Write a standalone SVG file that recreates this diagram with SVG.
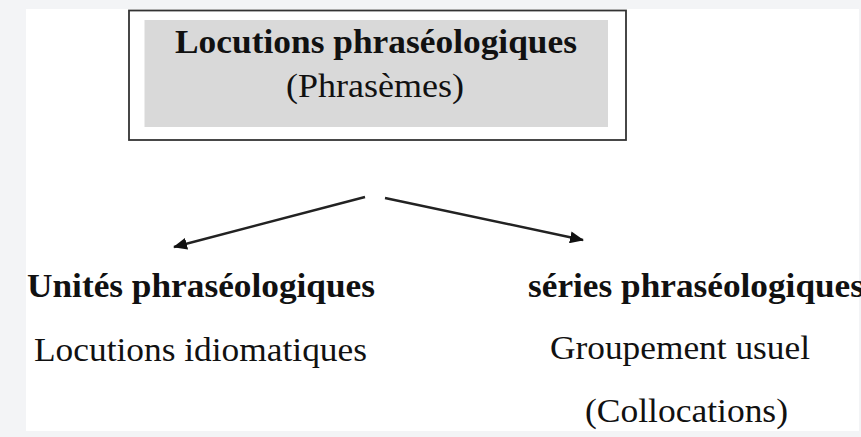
<svg xmlns="http://www.w3.org/2000/svg" width="861" height="437" viewBox="0 0 861 437">
<style>
.t{font-family:"Liberation Serif","Times New Roman",serif;font-size:34px;fill:#111}
.b{font-weight:bold}
.conn{stroke:#222;stroke-width:2.4;fill:none;marker-end:url(#ah)}
</style>
<defs>
<marker id="ah" viewBox="0 0 14 12" refX="13" refY="6" markerWidth="14" markerHeight="12" markerUnits="userSpaceOnUse" orient="auto">
<path d="M0,0 L14,6 L0,12 z" fill="#111"/>
</marker>
</defs>
<rect x="0" y="0" width="861" height="437" fill="#f3f4f6"/>
<rect x="26" y="9" width="833" height="422" fill="#ffffff"/>
<g id="root">
<rect x="129" y="10.5" width="497" height="129.5" fill="#ffffff" stroke="#333" stroke-width="1.8"/>
<rect x="144.5" y="20" width="463.5" height="107" fill="#d9d9d9"/>
<text class="t b" x="175" y="53" textLength="402" lengthAdjust="spacingAndGlyphs">Locutions phraséologiques</text>
<text class="t" x="286" y="97" textLength="178" lengthAdjust="spacingAndGlyphs">(Phrasèmes)</text>
</g>
<g id="connectors">
<line class="conn" x1="365" y1="197" x2="174" y2="247"/>
<line class="conn" x1="385" y1="198" x2="583" y2="240"/>
</g>
<g id="unites">
<text class="t b" x="27" y="297" textLength="348" lengthAdjust="spacingAndGlyphs">Unités phraséologiques</text>
<text class="t" x="34" y="361" textLength="333" lengthAdjust="spacingAndGlyphs">Locutions idiomatiques</text>
</g>
<g id="series">
<text class="t b" x="528" y="297" textLength="336" lengthAdjust="spacingAndGlyphs">séries phraséologiques</text>
<text class="t" x="550" y="359" textLength="260" lengthAdjust="spacingAndGlyphs">Groupement usuel</text>
<text class="t" x="585" y="422" textLength="203" lengthAdjust="spacingAndGlyphs">(Collocations)</text>
</g>
</svg>
